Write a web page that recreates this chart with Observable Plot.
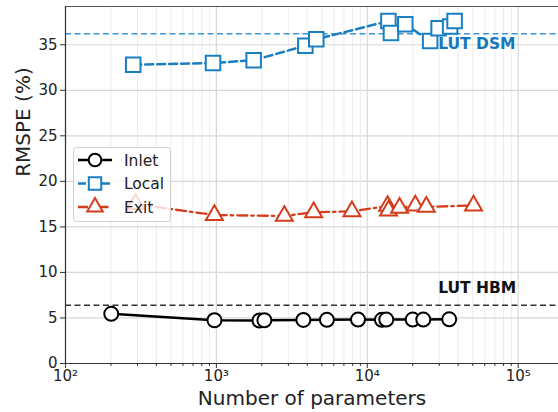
<!DOCTYPE html>
<html><head><meta charset="utf-8">
<script src="https://cdn.jsdelivr.net/npm/d3@7"></script>
<script src="https://cdn.jsdelivr.net/npm/@observablehq/plot@0.6"></script>
<style>body{margin:0;background:#fff}svg{font-family:"DejaVu Sans",sans-serif}</style>
</head><body><div id="chart"></div>
<script>
const inletX = [201, 971, 1930, 2080, 3770, 5400, 8680, 12500, 13360, 20000, 23500, 34900];
const inletY = [5.45, 4.75, 4.72, 4.75, 4.78, 4.8, 4.82, 4.8, 4.82, 4.82, 4.82, 4.85];
const localX = [281, 950, 1766, 3885, 4590, 13800, 14350, 17850, 26100, 29700, 35400, 37900];
const localY = [32.8, 33.0, 33.3, 34.9, 35.6, 37.6, 36.3, 37.25, 35.4, 36.8, 37.0, 37.6];
const exitX = [291, 970, 2820, 4410, 7910, 13640, 13840, 16370, 20800, 24600, 50600];
const exitY = [17.5, 16.3, 16.2, 16.6, 16.7, 17.3, 16.8, 17.1, 17.35, 17.2, 17.35];
const lutDSM = 36.2, lutHBM = 6.4;
const yTicks = [0, 5, 10, 15, 20, 25, 30, 35];
const xTicks = [1e2, 1e3, 1e4, 1e5];
const xTickLabels = ["10²", "10³", "10⁴", "10⁵"];
const minorX = [];
for (const d of [1e2, 1e3, 1e4, 1e5]) for (let k = 2; k <= 9; k++) if (k*d < 1.85e5) minorX.push(k*d);

const cBlack = "#000", cBlue = "#1a7fc1", cRed = "#d43d1c", cDSM = "#3f95d4", cDSMText = "#1677be";
const mk = (xs, ys) => xs.map((x, i) => ({x, y: ys[i]}));
const inlet = mk(inletX, inletY), local = mk(localX, localY), exit = mk(exitX, exitY);

const plot = Plot.plot({
  width: 558, height: 412,
  marginLeft: 65, marginRight: 0, marginTop: 6, marginBottom: 49,
  style: {fontFamily: "DejaVu Sans, sans-serif", fontSize: "14px", color: "#222", background: "#fff"},
  x: {type: "log", domain: [100, 1.85e5], label: null},
  y: {domain: [0, 39.2], label: null},
  marks: [
    Plot.ruleX(minorX, {stroke: "#ececec", strokeWidth: 1}),
    Plot.ruleX(xTicks, {stroke: "#d8d8d8", strokeWidth: 1.2}),
    Plot.ruleY(yTicks, {stroke: "#d8d8d8", strokeWidth: 1.2}),
    Plot.ruleY([lutDSM], {stroke: cDSM, strokeWidth: 1.6, strokeDasharray: "6,3.5"}),
    Plot.ruleY([lutHBM], {stroke: "#333", strokeWidth: 1.6, strokeDasharray: "6,3.5"}),
    Plot.text(["LUT DSM"], {x: 29500, y: 35.1, text: d => d, textAnchor: "start", fill: cDSMText, fontWeight: "bold", fontSize: 15.5}),
    Plot.text(["LUT HBM"], {x: 29500, y: 8.3, text: d => d, textAnchor: "start", fill: "#111", fontWeight: "bold", fontSize: 15.5}),
    Plot.line(inlet, {x: "x", y: "y", stroke: cBlack, strokeWidth: 2.5}),
    Plot.dot(inlet, {x: "x", y: "y", r: 7, symbol: "circle", stroke: cBlack, fill: "#fff", strokeWidth: 2}),
    Plot.line(local, {x: "x", y: "y", stroke: cBlue, strokeWidth: 2.5, strokeDasharray: "8,4"}),
    Plot.dot(local, {x: "x", y: "y", r: 8.2, symbol: "square", stroke: cBlue, fill: "#fff", strokeWidth: 2}),
    Plot.line(exit, {x: "x", y: "y", stroke: cRed, strokeWidth: 2.3, strokeDasharray: "10,4,2.5,4"}),
    Plot.dot(exit, {x: "x", y: "y", r: 6.3, symbol: "triangle", stroke: cRed, fill: "#fff", strokeWidth: 2}),
    Plot.ruleY([39.2], {stroke: "#555", strokeWidth: 1}),
    Plot.ruleX([100], {stroke: "#333", strokeWidth: 1.2}),
    Plot.ruleY([0], {stroke: "#333", strokeWidth: 1.2}),
    Plot.axisX(minorX, {tickSize: 3, tickFormat: () => "", stroke: "#333"}),
    Plot.axisX(xTicks, {tickSize: 5, tickPadding: 2, tickFormat: d => xTickLabels[xTicks.indexOf(d)], fontSize: 15, fill: "#222", stroke: "#333", label: null}),
    Plot.axisY(yTicks, {tickSize: 5, tickPadding: 3, fontSize: 15, fill: "#222", stroke: "#333", label: null}),
    Plot.text(["Number of parameters"], {frameAnchor: "bottom", dy: 41, text: d => d, fontSize: 20, fill: "#222"}),
    Plot.text(["RMSPE (%)"], {frameAnchor: "left", y: [20.5], dx: -42, rotate: -90, text: d => d, fontSize: 20, fill: "#222"})
  ]
});
document.getElementById("chart").appendChild(plot);

// legend
const svg = d3.select(plot);
const g = svg.append("g").attr("font-family", "DejaVu Sans, sans-serif").attr("text-anchor", "start");
g.append("rect").attr("x", 73.5).attr("y", 147.5).attr("width", 97).attr("height", 74).attr("rx", 3)
  .attr("fill", "#fff").attr("fill-opacity", 0.8).attr("stroke", "#d0d0d0");
const entries = [
  {name: "Inlet", color: cBlack, dash: null, sym: d3.symbolCircle, r: 6.3, y: 160},
  {name: "Local", color: cBlue, dash: "8,4", sym: d3.symbolSquare, r: 7, y: 183.5},
  {name: "Exit", color: cRed, dash: "10,4,2.5,4", sym: d3.symbolTriangle, r: 5.8, y: 207}
];
for (const e of entries) {
  g.append("line").attr("x1", 78).attr("x2", 112).attr("y1", e.y).attr("y2", e.y)
    .attr("stroke", e.color).attr("stroke-width", 2.5).attr("stroke-dasharray", e.dash);
  g.append("path").attr("d", d3.symbol(e.sym, e.r * e.r * Math.PI)()).attr("transform", `translate(95,${e.y})`)
    .attr("fill", "#fff").attr("stroke", e.color).attr("stroke-width", 2);
  g.append("text").attr("x", 124).attr("y", e.y).attr("dy", "0.36em").attr("font-size", 15.5).attr("fill", "#222").text(e.name);
}
</script></body></html>
